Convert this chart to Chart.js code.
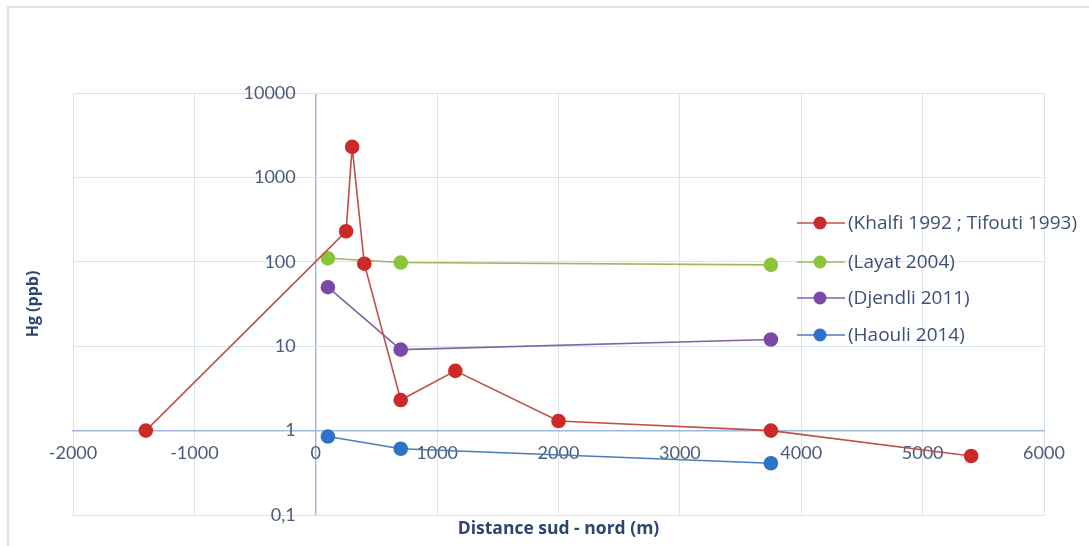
<!DOCTYPE html>
<html>
<head>
<meta charset="utf-8">
<script src="https://cdn.jsdelivr.net/npm/chart.js@4/dist/chart.umd.min.js"></script>
<style>
  html, body { margin: 0; padding: 0; background: #ffffff; }
  #wrap { width: 1089px; height: 546px; position: relative; }
</style>
</head>
<body>
<div id="wrap"><canvas id="c"></canvas></div>
<script>
// Hg concentrations (ppb) along the south–north profile (m)
const seriesNames = [
  '(Khalfi 1992 ; Tifouti 1993)',
  '(Layat 2004)',
  '(Djendli 2011)',
  '(Haouli 2014)'
];
const khalfiX  = [-1400, 250, 300, 400, 700, 1150, 2000, 3750, 5400];
const khalfiHg = [1, 230, 2300, 95, 2.3, 5.1, 1.3, 1.0, 0.5];
const layatX   = [100, 700, 3750];
const layatHg  = [110, 98, 92];
const djendliX  = [100, 700, 3750];
const djendliHg = [50, 9.1, 12];
const haouliX  = [100, 700, 3750];
const haouliHg = [0.85, 0.61, 0.41];
const yTicks = [0.1, 1, 10, 100, 1000, 10000];

const lineColors = ['#c0504d', '#9bbb59', '#8064a2', '#4a7ebb'];
const dotColors  = ['#cc2a28', '#8cc43c', '#7a4aa8', '#2c74c8'];

const pts = (xs, ys) => xs.map((x, i) => ({ x: x, y: ys[i] }));
const allSeries = [
  pts(khalfiX, khalfiHg),
  pts(layatX, layatHg),
  pts(djendliX, djendliHg),
  pts(haouliX, haouliHg)
];

const tickFont = { family: 'Lato, "Open Sans", sans-serif', size: 18 };
const tickColor = '#4b5b7c';
const gridColor = '#dae3f0';
const axisColor = '#9fb8dd';

// Outer frame of the chart object
const framePlugin = {
  id: 'frame',
  beforeDraw(chart) {
    const ctx = chart.ctx;
    ctx.save();
    ctx.strokeStyle = '#dfe4ec';
    ctx.lineWidth = 2;
    ctx.beginPath();
    ctx.moveTo(8, chart.height);
    ctx.lineTo(8, 7);
    ctx.lineTo(chart.width, 7);
    ctx.stroke();
    ctx.restore();
  }
};

// Axis titles placed at the outer edges of the plot
const titlesPlugin = {
  id: 'axisTitles',
  afterDraw(chart) {
    const ctx = chart.ctx;
    const a = chart.chartArea;
    ctx.save();
    ctx.fillStyle = '#2b4673';
    ctx.textAlign = 'center';
    ctx.textBaseline = 'middle';
    ctx.font = 'bold 17.5px "Open Sans", Lato, sans-serif';
    ctx.fillText('Distance sud - nord (m)', (a.left + a.right) / 2, 529);
    ctx.font = 'bold 16px "Open Sans", Lato, sans-serif';
    ctx.translate(33, (a.top + a.bottom) / 2);
    ctx.rotate(-Math.PI / 2);
    ctx.fillText('Hg (ppb)', 0, 0);
    ctx.restore();
  }
};

// Legend drawn inside the plot area, right side
const legendPlugin = {
  id: 'sideLegend',
  afterDraw(chart) {
    const ctx = chart.ctx;
    ctx.save();
    ctx.font = '19px "Open Sans", Lato, sans-serif';
    ctx.textBaseline = 'middle';
    ctx.textAlign = 'left';
    const rows = [223, 262, 298, 335];
    chart.data.datasets.forEach((ds, i) => {
      const y = rows[i];
      ctx.strokeStyle = ds.borderColor;
      ctx.lineWidth = 1.6;
      ctx.beginPath();
      ctx.moveTo(797, y);
      ctx.lineTo(845, y);
      ctx.stroke();
      ctx.fillStyle = ds.pointBackgroundColor;
      ctx.beginPath();
      ctx.arc(820, y, 6.5, 0, Math.PI * 2);
      ctx.fill();
      ctx.fillStyle = '#3c4f7a';
      ctx.fillText(ds.label, 848, y + 1);
    });
    ctx.restore();
  }
};

new Chart(document.getElementById('c'), {
  type: 'scatter',
  data: {
    datasets: allSeries.map((data, i) => ({
      label: seriesNames[i],
      data: data,
      showLine: true,
      borderColor: lineColors[i],
      borderWidth: 1.6,
      pointBackgroundColor: dotColors[i],
      pointBorderColor: dotColors[i],
      pointRadius: 6.5,
      pointHoverRadius: 6.5,
      tension: 0
    }))
  },
  options: {
    responsive: true,
    maintainAspectRatio: false,
    animation: false,
    layout: { padding: { left: 73, top: 93, right: 45, bottom: 31 } },
    plugins: {
      legend: { display: false },
      tooltip: { enabled: false }
    },
    scales: {
      x: {
        type: 'linear',
        min: -2000,
        max: 6000,
        position: { y: 1 },
        ticks: {
          stepSize: 1000, font: tickFont, color: tickColor, padding: 12,
          callback: v => String(v)
        },
        // the vertical line at 0 is the value axis
        grid: {
          color: ctx => (ctx.tick && ctx.tick.value === 0 ? axisColor : gridColor),
          lineWidth: ctx => (ctx.tick && ctx.tick.value === 0 ? 1.5 : 1),
          drawTicks: false
        },
        border: { color: axisColor, width: 1.5 },
        afterFit(scale) { scale.height = 0; }
      },
      y: {
        type: 'logarithmic',
        min: 0.1,
        max: 10000,
        // labels sit just left of the 0 m line
        position: { x: -165 },
        afterBuildTicks(scale) { scale.ticks = yTicks.map(v => ({ value: v })); },
        ticks: {
          font: tickFont,
          color: tickColor,
          callback: v => String(v).replace('.', ',')
        },
        grid: { color: gridColor, drawTicks: false, lineWidth: 1 },
        border: { display: false },
        afterFit(scale) { scale.width = 0; }
      }
    }
  },
  plugins: [framePlugin, titlesPlugin, legendPlugin]
});
</script>
</body>
</html>
